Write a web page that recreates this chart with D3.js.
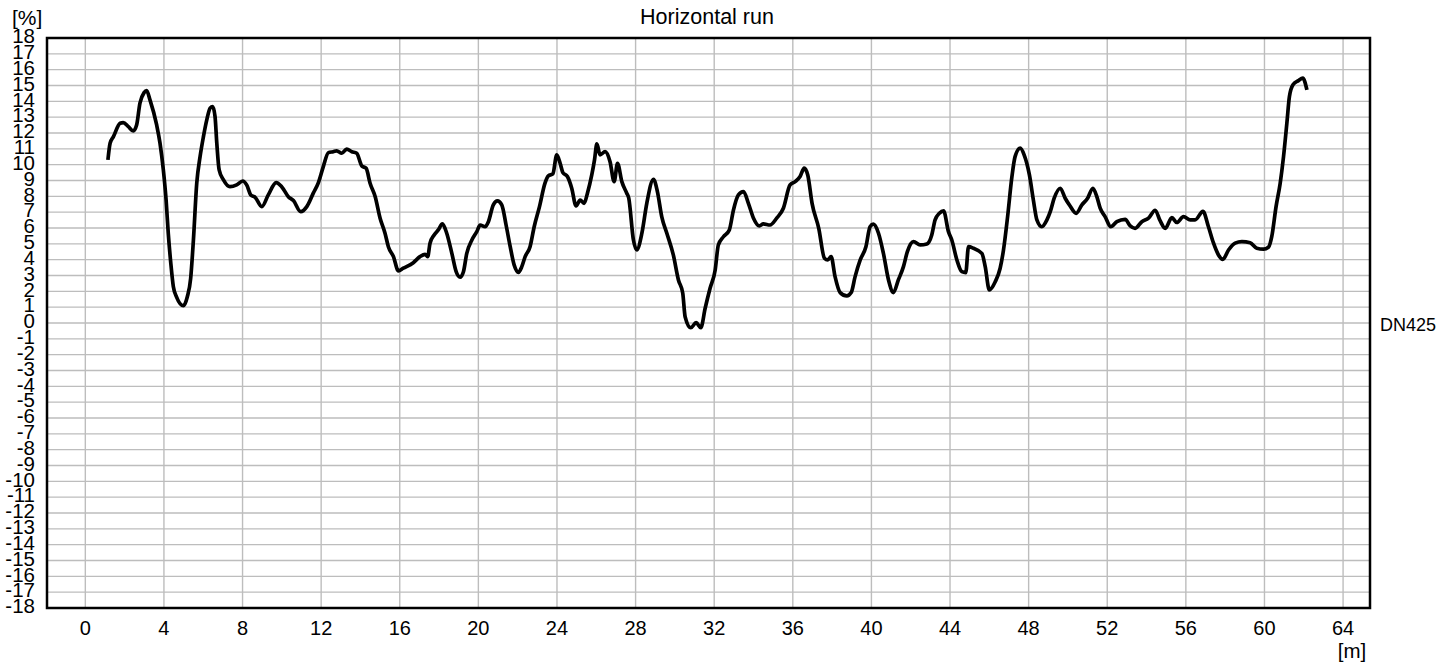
<!DOCTYPE html>
<html>
<head>
<meta charset="utf-8">
<script src="https://cdn.jsdelivr.net/npm/d3@7"></script>
<style>
    html, body { margin: 0; padding: 0; background: #fff; }
    svg { display: block; }
</style>
</head>
<body>
<svg id="chart"></svg>
<script>
// chart texts
var title = 'Horizontal run';
var series_name = 'DN425';
var y_unit = '[%]';
var x_unit = '[m]';

// tick labels
var x_ticks = [0, 4, 8, 12, 16, 20, 24, 28, 32, 36, 40, 44, 48, 52, 56, 60, 64];
var y_ticks = d3.range(-18, 19);

// distance along the run [m]
var distance = [
    1.15, 1.26, 1.43, 1.77, 1.93, 2.19, 2.44, 2.61, 2.78, 2.99,
    3.12, 3.29, 3.63, 3.80, 3.97, 4.11, 4.22, 4.35, 4.48, 4.65,
    4.99, 5.19, 5.36, 5.50, 5.67, 5.84, 6.01, 6.18, 6.35, 6.48,
    6.60, 6.69, 6.81, 7.03, 7.36, 7.70, 8.01, 8.21, 8.42, 8.64,
    8.98, 9.31, 9.71, 9.99, 10.33, 10.59, 10.96, 11.27, 11.60, 11.86,
    12.11, 12.37, 12.62, 12.79, 13.05, 13.30, 13.56, 13.81, 14.07, 14.29,
    14.49, 14.75, 15.00, 15.25, 15.42, 15.68, 15.93, 16.18, 16.69, 17.03,
    17.29, 17.42, 17.54, 17.75, 17.96, 18.17, 18.39, 18.65, 18.87, 19.07,
    19.24, 19.41, 19.67, 19.92, 20.09, 20.34, 20.51, 20.76, 20.97, 21.19,
    21.41, 21.62, 21.82, 22.04, 22.21, 22.38, 22.63, 22.84, 23.11, 23.39,
    23.56, 23.79, 23.99, 24.16, 24.30, 24.53, 24.75, 24.97, 25.18, 25.38,
    25.55, 25.77, 25.91, 26.03, 26.19, 26.45, 26.70, 26.91, 27.08, 27.30,
    27.55, 27.65, 27.89, 28.06, 28.32, 28.57, 28.91, 29.11, 29.33, 29.59,
    29.92, 30.18, 30.40, 30.52, 30.81, 31.08, 31.32, 31.54, 31.79, 32.05,
    32.21, 32.47, 32.77, 32.98, 33.23, 33.49, 33.74, 34.00, 34.30, 34.50,
    34.84, 35.18, 35.52, 35.86, 36.12, 36.37, 36.58, 36.76, 36.98, 37.32,
    37.61, 37.78, 37.95, 38.15, 38.41, 38.75, 38.97, 39.17, 39.43, 39.72,
    39.93, 40.10, 40.36, 40.61, 40.87, 41.12, 41.37, 41.63, 41.83, 42.14,
    42.48, 42.82, 43.07, 43.24, 43.46, 43.67, 43.92, 44.09, 44.35, 44.60,
    44.80, 44.94, 45.19, 45.62, 45.79, 46.00, 46.30, 46.55, 46.72, 46.93,
    47.15, 47.31, 47.57, 47.77, 48.04, 48.24, 48.42, 48.67, 48.93, 49.10,
    49.30, 49.61, 49.86, 50.11, 50.42, 50.71, 51.00, 51.27, 51.47, 51.64,
    51.89, 52.18, 52.49, 52.91, 53.17, 53.42, 53.76, 54.10, 54.44, 54.69,
    54.95, 55.29, 55.54, 55.88, 56.22, 56.47, 56.87, 57.15, 57.40, 57.66,
    57.88, 58.17, 58.51, 58.85, 59.27, 59.61, 59.95, 60.20, 60.37, 60.59,
    60.80, 60.97, 61.14, 61.27, 61.45, 61.73, 61.95, 62.16
];

// slope of the pipe [%]
var slope = [
    10.30, 11.35, 11.77, 12.62, 12.66, 12.40, 12.13, 12.50, 13.88, 14.55,
    14.68, 14.09, 12.51, 11.36, 9.67, 7.77, 5.67, 3.77, 2.29, 1.62,
    1.09, 1.66, 2.82, 5.24, 8.83, 10.51, 11.77, 12.83, 13.57, 13.67,
    13.04, 11.36, 9.67, 9.04, 8.61, 8.72, 8.97, 8.72, 8.09, 7.94,
    7.35, 8.09, 8.87, 8.61, 7.98, 7.73, 7.03, 7.35, 8.20, 8.87,
    9.88, 10.76, 10.82, 10.87, 10.72, 10.98, 10.82, 10.72, 9.92, 9.77,
    8.83, 7.98, 6.62, 5.67, 4.82, 4.19, 3.29, 3.46, 3.81, 4.19,
    4.34, 4.19, 5.04, 5.56, 5.88, 6.26, 5.67, 4.40, 3.24, 2.89,
    3.24, 4.40, 5.24, 5.77, 6.19, 6.08, 6.40, 7.46, 7.71, 7.46,
    6.19, 4.82, 3.67, 3.20, 3.56, 4.19, 4.82, 6.08, 7.35, 8.83,
    9.29, 9.42, 10.62, 10.09, 9.50, 9.25, 8.51, 7.39, 7.77, 7.56,
    8.20, 9.35, 10.30, 11.31, 10.62, 10.82, 10.19, 8.93, 10.09, 8.93,
    8.20, 7.90, 5.24, 4.61, 5.67, 7.56, 9.08, 8.30, 6.72, 5.67,
    4.30, 2.72, 1.88, 0.40, -0.30, 0.02, -0.30, 0.93, 2.19, 3.35,
    4.93, 5.45, 5.88, 7.14, 8.09, 8.30, 7.56, 6.62, 6.13, 6.26,
    6.19, 6.62, 7.25, 8.72, 8.93, 9.25, 9.78, 9.35, 7.56, 5.98,
    4.09, 3.98, 4.19, 2.93, 1.92, 1.71, 1.92, 2.93, 3.98, 4.82,
    6.08, 6.24, 5.67, 4.40, 2.72, 1.92, 2.72, 3.56, 4.51, 5.14,
    4.93, 4.99, 5.56, 6.51, 6.93, 7.08, 5.77, 5.24, 3.98, 3.24,
    3.18, 4.82, 4.72, 4.40, 3.56, 2.09, 2.61, 3.46, 4.61, 6.72,
    9.25, 10.51, 11.04, 10.62, 9.35, 7.77, 6.51, 6.08, 6.51, 7.03,
    7.88, 8.51, 7.88, 7.39, 6.93, 7.46, 7.88, 8.51, 7.98, 7.25,
    6.72, 6.08, 6.40, 6.55, 6.13, 5.98, 6.40, 6.62, 7.12, 6.46,
    5.98, 6.65, 6.35, 6.72, 6.51, 6.51, 7.05, 6.08, 5.07, 4.30,
    4.02, 4.61, 5.04, 5.14, 5.07, 4.72, 4.66, 4.78, 5.45, 7.35,
    8.83, 10.51, 12.62, 14.30, 15.04, 15.31, 15.46, 14.72
];

var W = 1456, H = 669;
var plot = { left: 47, top: 38, right: 1370, bottom: 608 };
var font = '"Liberation Sans", Arial, Helvetica, sans-serif';

var svg = d3.select('#chart').attr('width', W).attr('height', H);

// axis range as in the original workbook (starts a bit before 0)
var x = d3.scaleLinear().domain([-1.95, 65.37]).range([plot.left, plot.right]);
var y = d3.scaleLinear().domain([-18, 18]).range([plot.bottom, plot.top]);

// grid
var grid = svg.append('g').attr('stroke', '#bdbdbd').attr('stroke-width', 1.4);
grid.selectAll('line.h')
    .data(y_ticks)
    .join('line')
    .attr('class', 'h')
    .attr('x1', plot.left).attr('x2', plot.right)
    .attr('y1', d => y(d)).attr('y2', d => y(d));
grid.selectAll('line.v')
    .data(x_ticks)
    .join('line')
    .attr('class', 'v')
    .attr('y1', plot.top).attr('y2', plot.bottom)
    .attr('x1', d => x(d)).attr('x2', d => x(d));

// series
var points = distance.map((d, i) => [d, slope[i]]);
var line = d3.line()
    .x(d => x(d[0]))
    .y(d => y(d[1]))
    .curve(d3.curveMonotoneX);

svg.append('path')
    .datum(points)
    .attr('fill', 'none')
    .attr('stroke', '#000')
    .attr('stroke-width', 3.7)
    .attr('stroke-linejoin', 'round')
    .attr('d', line);

// frame
svg.append('rect')
    .attr('x', plot.left).attr('y', plot.top)
    .attr('width', plot.right - plot.left)
    .attr('height', plot.bottom - plot.top)
    .attr('fill', 'none')
    .attr('stroke', '#000')
    .attr('stroke-width', 2.5);

// y labels: one per gridline, crowded like in the original
svg.append('g')
    .attr('font-family', font)
    .attr('font-size', 20.5)
    .attr('text-anchor', 'end')
    .selectAll('text')
    .data(y_ticks)
    .join('text')
    .attr('x', 35)
    .attr('y', d => y(d) + 5.3)
    .text(d => d);

svg.append('g')
    .attr('font-family', font)
    .attr('font-size', 20)
    .attr('text-anchor', 'middle')
    .selectAll('text')
    .data(x_ticks)
    .join('text')
    .attr('x', d => x(d))
    .attr('y', 635)
    .text(d => d);

// titles and units
var texts = svg.append('g').attr('font-family', font).attr('fill', '#000');
texts.append('text')
    .attr('x', 707).attr('y', 24)
    .attr('font-size', 21.5)
    .attr('text-anchor', 'middle')
    .text(title);
texts.append('text')
    .attr('x', 12).attr('y', 25)
    .attr('font-size', 21)
    .text(y_unit);
texts.append('text')
    .attr('x', 1352).attr('y', 658)
    .attr('font-size', 20.5)
    .attr('text-anchor', 'middle')
    .text(x_unit);
texts.append('text')
    .attr('x', 1380).attr('y', 331)
    .attr('font-size', 18)
    .text(series_name);
</script>
</body>
</html>
